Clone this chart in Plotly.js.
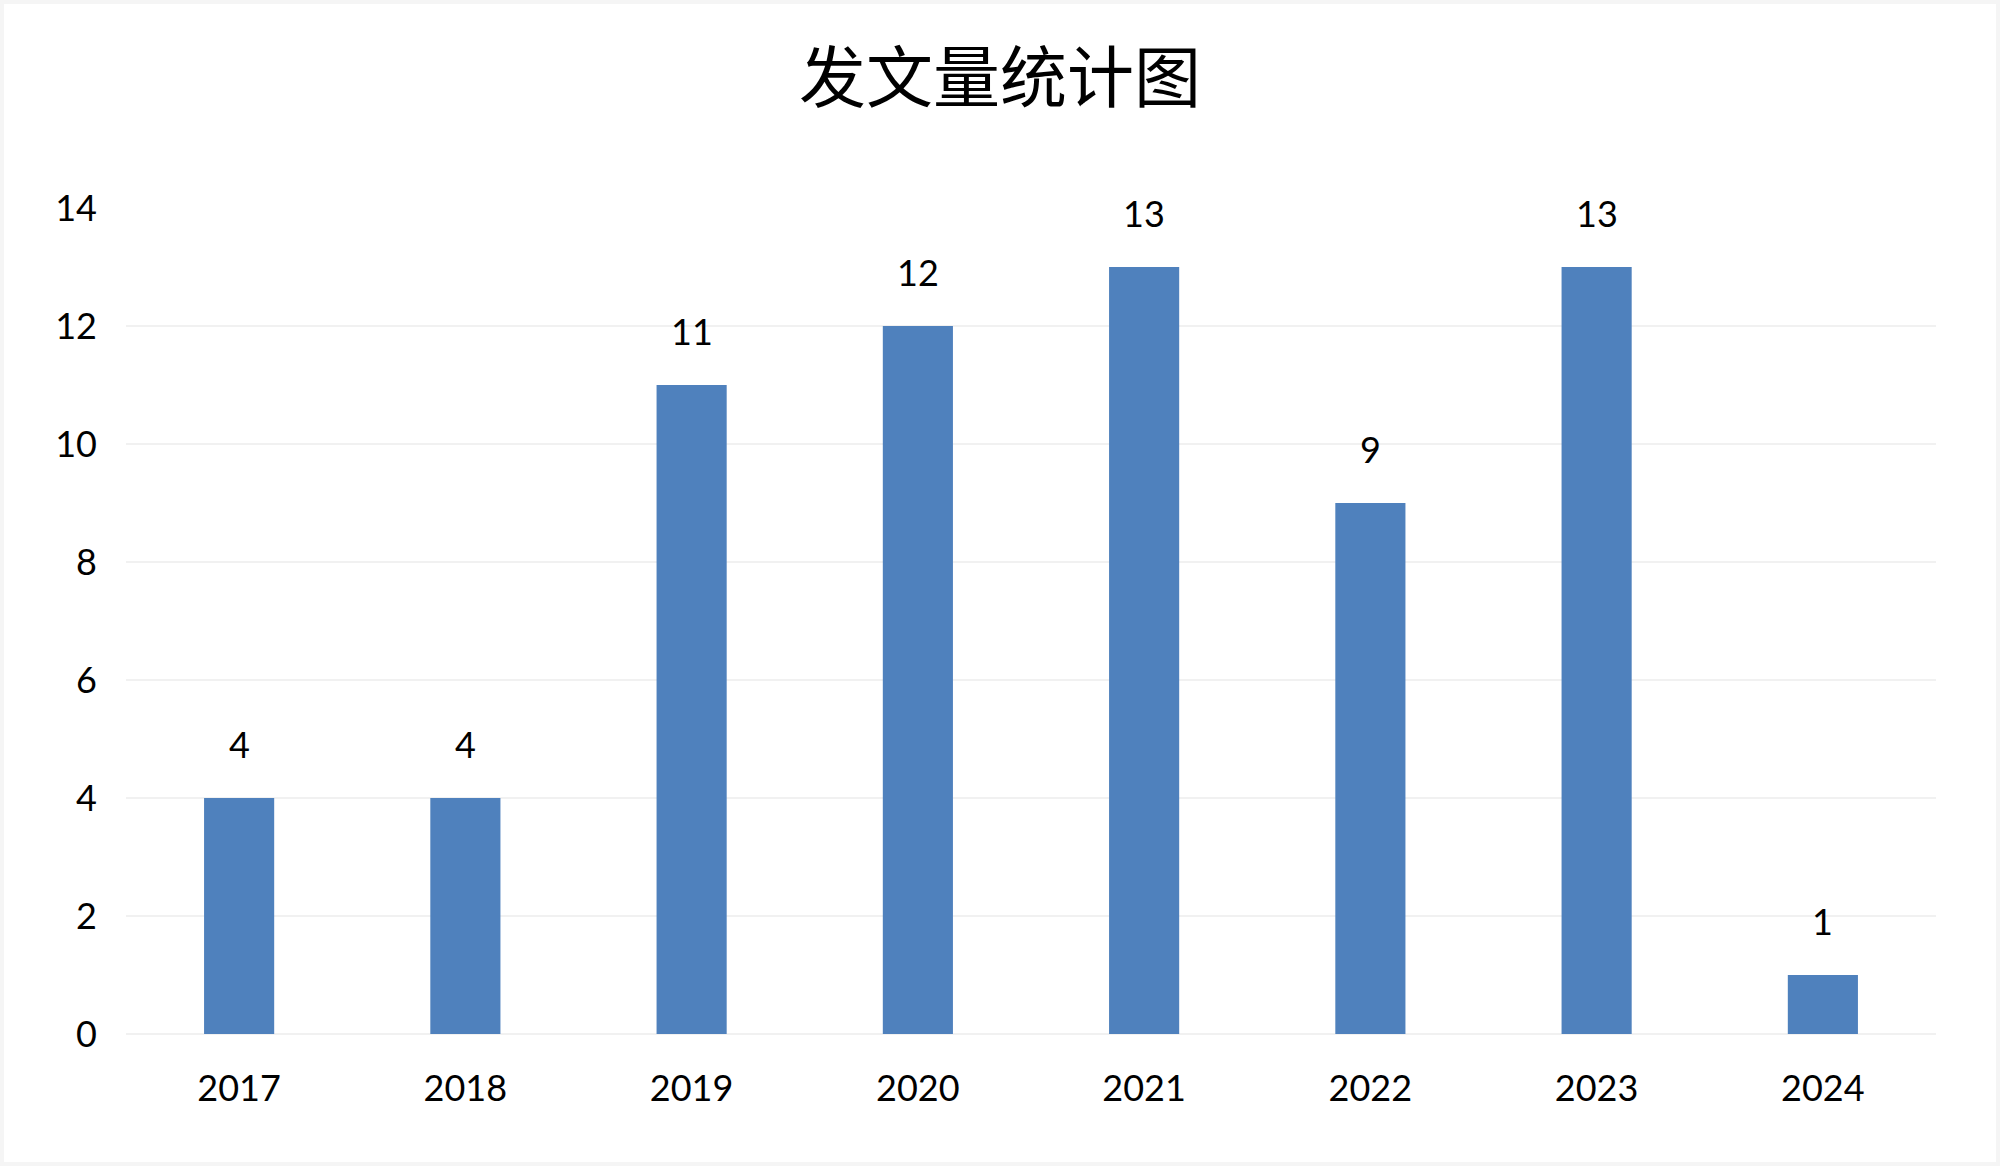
<!DOCTYPE html>
<html>
<head>
<meta charset="utf-8">
<script src="https://cdn.plot.ly/plotly-3.0.1.min.js"></script>
<style>
  html, body { margin: 0; padding: 0; background: #ffffff; }
  #wrap { position: relative; width: 2000px; height: 1166px; }
  #chart { width: 2000px; height: 1166px; }
  #frame { position: absolute; left: 0; top: 0; width: 2000px; height: 1166px;
           box-sizing: border-box; border: 4px solid #f5f5f5; pointer-events: none; }
</style>
</head>
<body>
<div id="wrap">
  <div id="chart"></div>
  <div id="frame"></div>
</div>
<script>
const years = ["2017", "2018", "2019", "2020", "2021", "2022", "2023", "2024"];
const counts = [4, 4, 11, 12, 13, 9, 13, 1];
const yTicks = [0, 2, 4, 6, 8, 10, 12, 14];
const titleText = "发文量统计图";

const numFont = { family: "Lato, 'Open Sans', sans-serif", size: 36, color: "#000000" };

const trace = {
  type: "bar",
  x: years,
  y: counts,
  marker: { color: "#4F81BD" },
  hoverinfo: "x+y"
};

const annotations = years.map((yr, i) => ({
  x: i,
  y: counts[i],
  xref: "x",
  yref: "y",
  text: String(counts[i]),
  showarrow: false,
  yanchor: "bottom",
  yshift: 30,
  font: numFont
}));

const layout = {
  width: 2000,
  height: 1166,
  paper_bgcolor: "#ffffff",
  plot_bgcolor: "#ffffff",
  margin: { l: 126, r: 64, t: 208, b: 132 },
  showlegend: false,
  bargap: 0.69,
  title: {
    text: titleText,
    font: { family: "'Noto Sans CJK SC', sans-serif", size: 67, color: "#000000" },
    x: 0.5,
    xanchor: "center",
    xref: "container",
    y: 1 - 79 / 1166,
    yanchor: "middle",
    yref: "container"
  },
  xaxis: {
    type: "category",
    range: [-0.5, 7.5],
    tickfont: numFont,
    showgrid: false,
    zeroline: false,
    showline: false,
    ticks: "",
    ticklabelstandoff: 30
  },
  yaxis: {
    range: [0, 14],
    tickvals: yTicks,
    ticktext: yTicks.map(String),
    tickfont: numFont,
    showgrid: true,
    gridcolor: "#f1f1f1",
    gridwidth: 2,
    zeroline: true,
    zerolinecolor: "#f1f1f1",
    zerolinewidth: 2,
    showline: false,
    ticks: "",
    ticklabelstandoff: 28
  },
  annotations: annotations
};

Plotly.newPlot("chart", [trace], layout, { displayModeBar: false, staticPlot: true });
</script>
</body>
</html>
